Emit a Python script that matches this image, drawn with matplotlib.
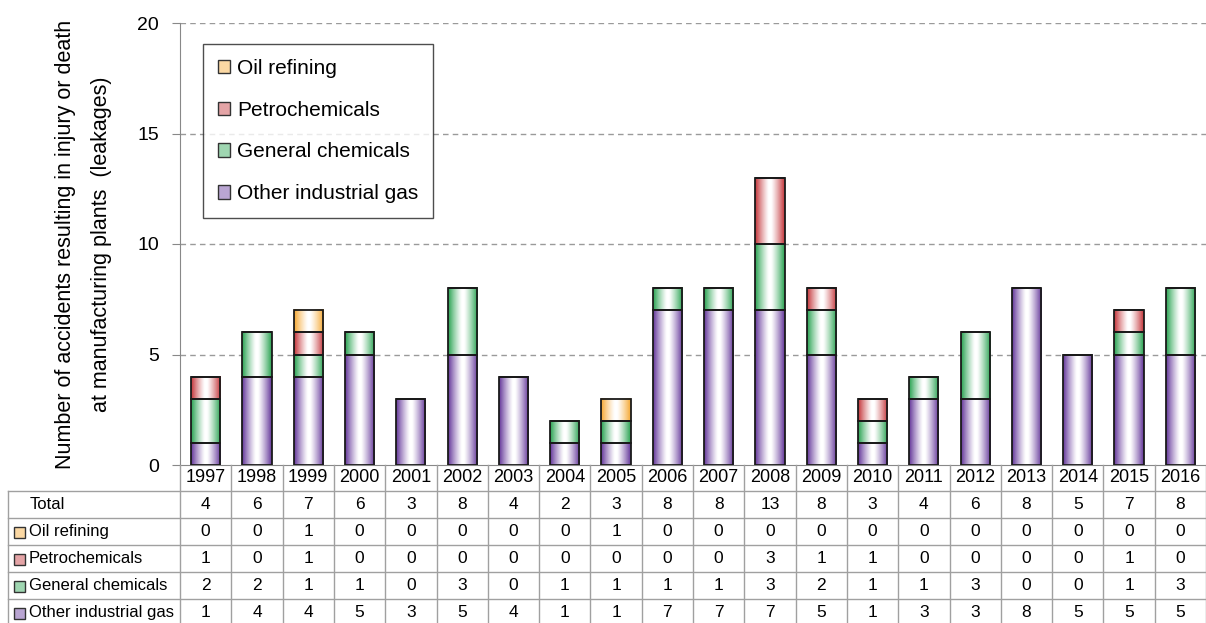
import numpy as np
import matplotlib
matplotlib.use("Agg")
import matplotlib.pyplot as plt
from matplotlib.patches import Rectangle
from matplotlib.colors import to_rgb

plt.rcParams['font.family'] = ['Liberation Sans', 'DejaVu Sans']

years = [str(y) for y in range(1997, 2017)]
oil_refining = [0, 0, 1, 0, 0, 0, 0, 0, 1, 0, 0, 0, 0, 0, 0, 0, 0, 0, 0, 0]
petrochemicals = [1, 0, 1, 0, 0, 0, 0, 0, 0, 0, 0, 3, 1, 1, 0, 0, 0, 0, 1, 0]
general_chemicals = [2, 2, 1, 1, 0, 3, 0, 1, 1, 1, 1, 3, 2, 1, 1, 3, 0, 0, 1, 3]
other_industrial_gas = [1, 4, 4, 5, 3, 5, 4, 1, 1, 7, 7, 7, 5, 1, 3, 3, 8, 5, 5, 5]

series_names = ["Other industrial gas", "General chemicals", "Petrochemicals", "Oil refining"]
series_vals = [other_industrial_gas, general_chemicals, petrochemicals, oil_refining]
series_cols = ["#64379a", "#2aa352", "#c4353a", "#f5a833"]
totals = [sum(v) for v in zip(*series_vals)]

W, H = 1206, 623
fig = plt.figure(figsize=(W / 100, H / 100), dpi=100)
ax_l, ax_r, ax_b, ax_t = 180, 1206, 465, 23
ax = fig.add_axes([ax_l / W, (H - ax_b) / H, (ax_r - ax_l) / W, (ax_b - ax_t) / H])

n = len(years)
x = np.arange(n)
bw = 0.57


def grad_img(color, npx=64):
    c = np.array(to_rgb(color))
    t = np.abs(np.linspace(-1, 1, npx))
    f = np.clip((t - 0.08) / 0.92, 0, 1) ** 1.2
    img = (1 - f)[:, None] * np.ones(3) + f[:, None] * c
    return img[None, :, :]


bottom = np.zeros(n)
for name, vals, col in zip(series_names, series_vals, series_cols):
    vals = np.array(vals, dtype=float)
    bars = ax.bar(x, vals, bw, bottom=bottom, color='none', edgecolor='#1a1a1a',
                  linewidth=1.3, zorder=3)
    img = grad_img(col)
    for b, v in zip(bars, vals):
        if v <= 0:
            continue
        x0, y0 = b.get_x(), b.get_y()
        ax.imshow(img, extent=[x0, x0 + b.get_width(), y0, y0 + b.get_height()],
                  aspect='auto', zorder=2, interpolation='bilinear')
    bottom += vals

ax.set_xlim(-0.5, n - 0.5)
ax.set_ylim(0, 20)
ax.set_yticks([0, 5, 10, 15, 20])
ax.tick_params(axis='y', labelsize=14, length=6, color='#888888', pad=9)
ax.set_xticks(np.arange(-0.5, n, 1))
ax.set_xticklabels([])
ax.tick_params(axis='x', length=0)
for yv in [5, 10, 15, 20]:
    ax.axhline(yv, color='#9a9a9a', lw=1, ls=(0, (4, 3)), zorder=1)
for s in ['top', 'right']:
    ax.spines[s].set_visible(False)
ax.spines['left'].set_color('#888888')
ax.spines['bottom'].set_color('#888888')
ax.set_ylabel("Number of accidents resulting in injury or death\nat manufacturing plants  (leakages)",
              fontsize=15.5, labelpad=18, linespacing=1.95)

# legend
light = [tuple(0.45 * np.array(to_rgb(c)) + 0.55) for c in series_cols]
handles = [Rectangle((0, 0), 1, 1, facecolor=lc, edgecolor='#333333', lw=1) for lc in light]
leg = ax.legend(handles[::-1], series_names[::-1], loc='upper left',
                bbox_to_anchor=((203 - ax_l) / (ax_r - ax_l), 1 - (44 - ax_t) / (ax_b - ax_t)),
                fontsize=15, frameon=True, fancybox=False, edgecolor='#222222',
                handlelength=0.6, handleheight=0.6, handletextpad=0.35,
                labelspacing=1.1, borderpad=0.7, borderaxespad=0)
leg.get_frame().set_linewidth(1.0)
leg.set_zorder(5)

# table
tab = fig.add_axes([ax_l / W, 0, (ax_r - ax_l) / W, (H - ax_b) / H], sharex=ax)
tab.set_ylim(H - ax_b, 0)
tab.axis('off')
col_w = (ax_r - ax_l) / n
x_left = -0.5 - (ax_l - 8) / col_w
row_edges = [0, 26, 53, 80, 107, 134, 161]
line_kw = dict(color='#a0a0a0', lw=1, clip_on=False)
for i in range(n + 1):
    tab.plot([i - 0.5, i - 0.5], [0, 161], **line_kw)
tab.plot([x_left, x_left], [26, 161], **line_kw)
for r in row_edges[1:]:
    tab.plot([x_left, n - 0.5], [r, r], **line_kw)

for i, yr in enumerate(years):
    tab.text(i, 13, yr, ha='center', va='center', fontsize=13, clip_on=False)

row_labels = ["Total"] + series_names[::-1]
row_data = [totals] + [list(v) for v in series_vals[::-1]]
row_cols = [None] + light[::-1]
for r, (lab, data, lc) in enumerate(zip(row_labels, row_data, row_cols)):
    yc = (row_edges[r + 1] + row_edges[r + 2]) / 2
    if lc is None:
        tab.text(x_left + 22 / col_w, yc, lab, ha='left', va='center', fontsize=12, clip_on=False)
    else:
        sq = 11 / col_w
        tab.add_patch(Rectangle((x_left + 6 / col_w, yc - 4.5), sq, 11, facecolor=lc,
                                edgecolor='#333333', lw=1, clip_on=False))
        tab.text(x_left + 21 / col_w, yc, lab, ha='left', va='center', fontsize=12, clip_on=False)
    for i, v in enumerate(data):
        tab.text(i, yc, str(v), ha='center', va='center', fontsize=12.5, clip_on=False)

fig.savefig("out.png", dpi=100)
